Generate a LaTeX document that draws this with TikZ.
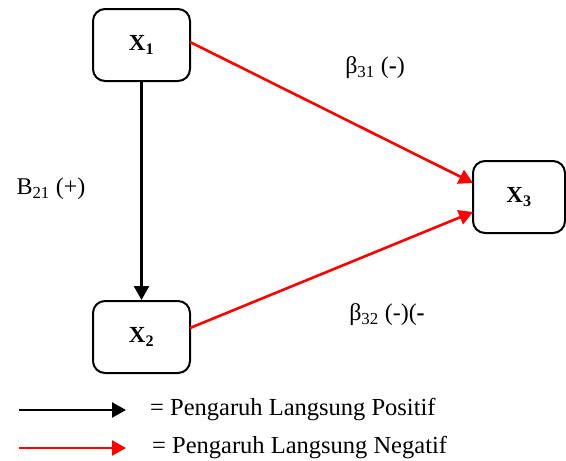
\documentclass[tikz,border=0pt]{standalone}
\usepackage{fontspec}
\setmainfont{Liberation Serif}
\usetikzlibrary{arrows.meta}
\begin{document}
\begin{tikzpicture}[x=1pt,y=-1pt,
  box/.style={draw,line width=2pt,rounded corners=12pt,minimum width=97pt,minimum height=72pt,inner sep=0pt,font=\fontsize{23}{26}\selectfont\bfseries},
  posarrow/.style={draw=black,line width=2.6pt,-{Triangle[length=14pt,width=15pt]}},
  negarrow/.style={draw=red,line width=2.6pt,-{Triangle[length=14pt,width=15pt]},color=red},
  lbl/.style={font=\fontsize{24}{28}\selectfont,inner sep=0pt},
  leg/.style={font=\fontsize{24.5}{28}\selectfont,anchor=west,inner sep=0pt}]
\useasboundingbox (0,0) rectangle (566,461);
\node[box] (x1) at (141.5,45) {X\textsubscript{1}};
\node[box] (x2) at (141.5,337) {X\textsubscript{2}};
\node[box,minimum width=92pt] (x3) at (519,197) {X\textsubscript{3}};
\coordinate (a1) at (190,42);
\coordinate (b1) at (473,183);
\coordinate (a2) at (190,328);
\coordinate (b2) at (473,212);
\draw[posarrow] (x1.south) -- (x2.north);
\draw[negarrow] (a1) -- (b1);
\draw[negarrow] (a2) -- (b2);
\node[lbl] (l1) at (375,68) {β\textsubscript{31} (\textbf{-})};
\node[lbl] (l2) at (387,315) {β\textsubscript{32} (-)(\textbf{-}};
\node[lbl] (l3) at (51,189) {B\textsubscript{21} (+)};
\coordinate (p1) at (19,410);
\coordinate (p2) at (126,410);
\coordinate (n1) at (19,448);
\coordinate (n2) at (126,448);
\draw[posarrow] (p1) -- (p2);
\draw[negarrow] (n1) -- (n2);
\node[leg] (t1) at (150,410) {= Pengaruh Langsung Positif};
\node[leg] (t2) at (152,448) {= Pengaruh Langsung Negatif};
\end{tikzpicture}
\end{document}
